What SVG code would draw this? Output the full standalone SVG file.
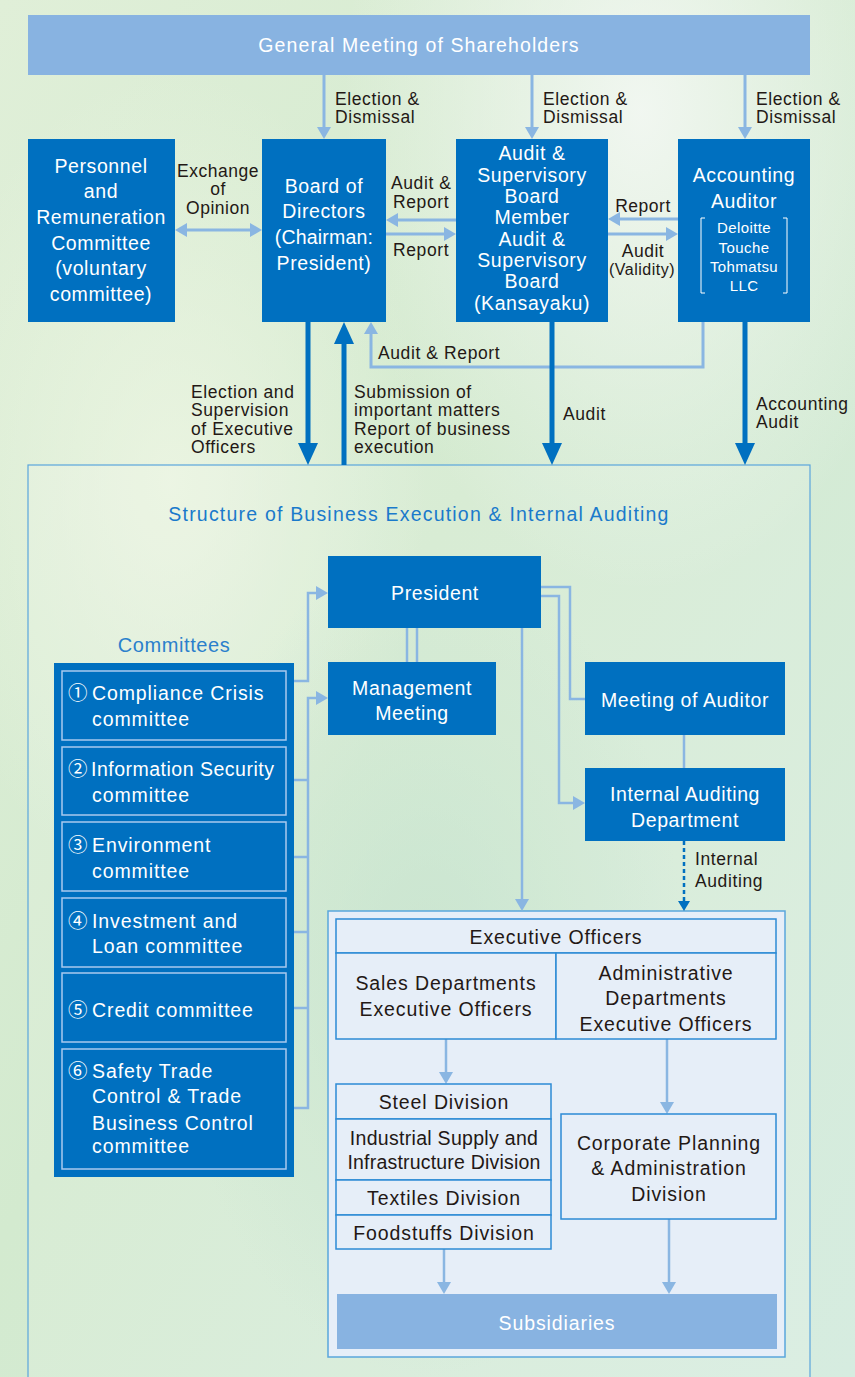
<svg xmlns="http://www.w3.org/2000/svg" width="855" height="1377" viewBox="0 0 855 1377">
<defs>
<linearGradient id="bg" x1="0" y1="0" x2="1" y2="1">
<stop offset="0" stop-color="#e0efd8"/>
<stop offset="0.45" stop-color="#d3eacf"/>
<stop offset="1" stop-color="#d6ece0"/>
</linearGradient>
<radialGradient id="hl1" cx="0.75" cy="0.08" r="0.35">
<stop offset="0" stop-color="#f4f8f4" stop-opacity="0.9"/>
<stop offset="1" stop-color="#f4f8f4" stop-opacity="0"/>
</radialGradient>
<radialGradient id="hl2" cx="0.2" cy="0.35" r="0.3">
<stop offset="0" stop-color="#eef6e4" stop-opacity="0.8"/>
<stop offset="1" stop-color="#eef6e4" stop-opacity="0"/>
</radialGradient>
<radialGradient id="hl3" cx="0.5" cy="0.7" r="0.3">
<stop offset="0" stop-color="#b8dcc4" stop-opacity="0.6"/>
<stop offset="1" stop-color="#b8dcc4" stop-opacity="0"/>
</radialGradient>
<marker id="al" markerWidth="14" markerHeight="14" refX="5" refY="7" orient="auto-start-reverse" markerUnits="userSpaceOnUse">
<path d="M0,0 L12,7 L0,14 z" fill="#8ab6e2"/>
</marker>
<marker id="ad" markerWidth="12" markerHeight="12" refX="4" refY="6" orient="auto" markerUnits="userSpaceOnUse">
<path d="M0,0 L10,6 L0,12 z" fill="#0070c0"/>
</marker>
<marker id="at" markerWidth="22" markerHeight="20" refX="8" refY="10" orient="auto" markerUnits="userSpaceOnUse">
<path d="M0,0 L22,10 L0,20 z" fill="#0070c0"/>
</marker>
<style>
text{font-family:"Liberation Sans","Noto Sans CJK JP",sans-serif}
.box{fill:#0070c0}
.lbox{fill:#88b3e1}
.w{fill:#ffffff;font-size:19.5px;letter-spacing:0.6px;text-anchor:middle}
.wl{fill:#ffffff;font-size:19.5px;letter-spacing:0.9px}
.ws{fill:#ffffff;font-size:15px;letter-spacing:0.4px;text-anchor:middle}
.lb{fill:#231815;font-size:17.5px;letter-spacing:0.6px}
.lbm{fill:#231815;font-size:17.5px;letter-spacing:0.5px;text-anchor:middle}
.d{fill:#231815;font-size:19.5px;letter-spacing:0.9px;text-anchor:middle}
.ttl{fill:#1a7acb;font-size:19.5px;letter-spacing:1.2px;text-anchor:middle}
.cbox{fill:none;stroke:#a9c9ee;stroke-width:1.5}
.cell{fill:#e6eef8;stroke:#2d8bd5;stroke-width:1.5}
.cl{fill:none;stroke:#8ab6e2;stroke-width:3}
.cl2{fill:none;stroke:#8ab6e2;stroke-width:2.5}
.thick{fill:none;stroke:#0070c0;stroke-width:5}
.dash{fill:none;stroke:#0070c0;stroke-width:2.5;stroke-dasharray:4 3}
</style>
</defs>

<rect width="855" height="1377" fill="url(#bg)"/>
<rect width="855" height="1377" fill="url(#hl1)"/>
<rect width="855" height="1377" fill="url(#hl2)"/>
<rect width="855" height="1377" fill="url(#hl3)"/>

<g id="container">
<rect x="28" y="465" width="782" height="930" fill="#ffffff" fill-opacity="0.12" stroke="#5aa6dc" stroke-width="1.2"/>
<text class="ttl" x="419" y="521">Structure of Business Execution &amp; Internal Auditing</text>
</g>

<g id="executive-area">
<rect x="328" y="911" width="457" height="446" fill="#e6eef8" stroke="#5aa6dc" stroke-width="1.5"/>
</g>

<g id="connectors">
<path class="cl" d="M324,75 V132" marker-end="url(#al)"/>
<path class="cl" d="M532,75 V132" marker-end="url(#al)"/>
<path class="cl" d="M745,75 V132" marker-end="url(#al)"/>
<path class="cl" d="M182,230 H255" marker-start="url(#al)" marker-end="url(#al)"/>
<path class="cl" d="M456,220 H393" marker-end="url(#al)"/>
<path class="cl" d="M386,234 H449" marker-end="url(#al)"/>
<path class="cl" d="M678,219 H615" marker-end="url(#al)"/>
<path class="cl" d="M608,234 H671" marker-end="url(#al)"/>
<path class="cl" d="M703,322 V367 H371 V329" marker-end="url(#al)"/>
<path class="thick" d="M308,322 V451" marker-end="url(#at)"/>
<path class="thick" d="M344,465 V336" marker-end="url(#at)"/>
<path class="thick" d="M552,322 V451" marker-end="url(#at)"/>
<path class="thick" d="M745,322 V451" marker-end="url(#at)"/>
<path class="cl2" d="M407,628 V662 M417,628 V662"/>
<path class="cl2" d="M286,681 H308 V593 H321" marker-end="url(#al)"/>
<path class="cl2" d="M286,1108 H308 V698 H321" marker-end="url(#al)"/>
<path class="cl2" d="M286,780 H308 M286,857 H308 M286,932 H308 M286,1008 H308"/>
<path class="cl2" d="M541,587 H570 V699 H585"/>
<path class="cl2" d="M541,596 H559 V803 H578" marker-end="url(#al)"/>
<path class="cl2" d="M684,735 V768"/>
<path class="dash" d="M684,841 V905" marker-end="url(#ad)"/>
<path class="cl2" d="M522,628 V904" marker-end="url(#al)"/>
<path class="cl2" d="M446,1039 V1077" marker-end="url(#al)"/>
<path class="cl2" d="M667,1039 V1107" marker-end="url(#al)"/>
<path class="cl2" d="M444,1249 V1287" marker-end="url(#al)"/>
<path class="cl2" d="M669,1219 V1287" marker-end="url(#al)"/>
</g>

<g id="labels">
<text class="lb" x="335" y="105">Election &amp;</text>
<text class="lb" x="335" y="123">Dismissal</text>
<text class="lb" x="543" y="105">Election &amp;</text>
<text class="lb" x="543" y="123">Dismissal</text>
<text class="lb" x="756" y="105">Election &amp;</text>
<text class="lb" x="756" y="123">Dismissal</text>
<text class="lbm" x="218" y="177">Exchange</text>
<text class="lbm" x="218" y="195">of</text>
<text class="lbm" x="218" y="214">Opinion</text>
<text class="lb" x="391" y="189">Audit &amp;</text>
<text class="lb" x="393" y="208">Report</text>
<text class="lb" x="393" y="256">Report</text>
<text class="lbm" x="643" y="212">Report</text>
<text class="lbm" x="643" y="257">Audit</text>
<text class="lbm" x="642" y="275" style="font-size:16px">(Validity)</text>
<text class="lb" x="378" y="359">Audit &amp; Report</text>
<text class="lb" x="191" y="398">Election and</text>
<text class="lb" x="191" y="416">Supervision</text>
<text class="lb" x="191" y="435">of Executive</text>
<text class="lb" x="191" y="453">Officers</text>
<text class="lb" x="354" y="398">Submission of</text>
<text class="lb" x="354" y="416">important matters</text>
<text class="lb" x="354" y="435">Report of business</text>
<text class="lb" x="354" y="453">execution</text>
<text class="lb" x="563" y="420">Audit</text>
<text class="lb" x="756" y="410">Accounting</text>
<text class="lb" x="756" y="428">Audit</text>
<text class="lb" x="695" y="865">Internal</text>
<text class="lb" x="695" y="887">Auditing</text>
</g>

<g id="general-meeting">
<rect class="lbox" x="28" y="15" width="782" height="60"/>
<text class="w" x="419" y="52" style="letter-spacing:1.1px">General Meeting of Shareholders</text>
</g>

<g id="personnel">
<rect class="box" x="28" y="139" width="147" height="183"/>
<text class="w" x="101" y="173">Personnel</text>
<text class="w" x="101" y="198">and</text>
<text class="w" x="101" y="224">Remuneration</text>
<text class="w" x="101" y="250">Committee</text>
<text class="w" x="101" y="275">(voluntary</text>
<text class="w" x="101" y="301">committee)</text>
</g>

<g id="board">
<rect class="box" x="262" y="139" width="124" height="183"/>
<text class="w" x="324" y="193">Board of</text>
<text class="w" x="324" y="218">Directors</text>
<text class="w" x="324" y="244" style="letter-spacing:0.2px">(Chairman:</text>
<text class="w" x="324" y="270">President)</text>
</g>

<g id="audit-board">
<rect class="box" x="456" y="139" width="152" height="183"/>
<text class="w" x="532" y="160">Audit &amp;</text>
<text class="w" x="532" y="182">Supervisory</text>
<text class="w" x="532" y="203">Board</text>
<text class="w" x="532" y="224">Member</text>
<text class="w" x="532" y="246">Audit &amp;</text>
<text class="w" x="532" y="267">Supervisory</text>
<text class="w" x="532" y="288">Board</text>
<text class="w" x="532" y="310">(Kansayaku)</text>
</g>

<g id="accounting-auditor">
<rect class="box" x="678" y="139" width="132" height="183"/>
<text class="w" x="744" y="182">Accounting</text>
<text class="w" x="744" y="208">Auditor</text>
<path d="M705,218 H701 V293 H705 M783,218 H787 V293 H783" fill="none" stroke="#ffffff" stroke-width="1"/>
<text class="ws" x="744" y="233">Deloitte</text>
<text class="ws" x="744" y="253">Touche</text>
<text class="ws" x="744" y="272">Tohmatsu</text>
<text class="ws" x="744" y="291">LLC</text>
</g>

<g id="president">
<rect class="box" x="328" y="556" width="213" height="72"/>
<text class="w" x="435" y="600">President</text>
</g>

<g id="management-meeting">
<rect class="box" x="328" y="662" width="168" height="73"/>
<text class="w" x="412" y="695">Management</text>
<text class="w" x="412" y="720">Meeting</text>
</g>

<g id="meeting-of-auditor">
<rect class="box" x="585" y="662" width="200" height="73"/>
<text class="w" x="685" y="707">Meeting of Auditor</text>
</g>

<g id="internal-auditing">
<rect class="box" x="585" y="768" width="200" height="73"/>
<text class="w" x="685" y="801">Internal Auditing</text>
<text class="w" x="685" y="827">Department</text>
</g>

<g id="committees">
<text x="174" y="652" style="fill:#2a80cc;font-size:20px;letter-spacing:0.6px;text-anchor:middle">Committees</text>
<rect class="box" x="54" y="663" width="240" height="514"/>
<rect class="cbox" x="62" y="671" width="224" height="69"/>
<rect class="cbox" x="62" y="747" width="224" height="68"/>
<rect class="cbox" x="62" y="822" width="224" height="69"/>
<rect class="cbox" x="62" y="898" width="224" height="69"/>
<rect class="cbox" x="62" y="973" width="224" height="69"/>
<rect class="cbox" x="62" y="1049" width="224" height="120"/>
<text class="wl" x="68" y="700">①<tspan x="92">Compliance Crisis</tspan></text>
<text class="wl" x="92" y="726">committee</text>
<text class="wl" x="68" y="776">②<tspan x="91" style="letter-spacing:0.5px">Information Security</tspan></text>
<text class="wl" x="92" y="802">committee</text>
<text class="wl" x="68" y="852">③<tspan x="92">Environment</tspan></text>
<text class="wl" x="92" y="878">committee</text>
<text class="wl" x="68" y="928">④<tspan x="92">Investment and</tspan></text>
<text class="wl" x="92" y="953">Loan committee</text>
<text class="wl" x="68" y="1017">⑤<tspan x="92">Credit committee</tspan></text>
<text class="wl" x="68" y="1078">⑥<tspan x="92">Safety Trade</tspan></text>
<text class="wl" x="92" y="1103">Control &amp; Trade</text>
<text class="wl" x="92" y="1130">Business Control</text>
<text class="wl" x="92" y="1153">committee</text>
</g>

<g id="executive-officers">
<rect class="cell" x="336" y="919" width="440" height="34"/>
<text class="d" x="556" y="944">Executive Officers</text>
</g>

<g id="sales-officers">
<rect class="cell" x="336" y="953" width="220" height="86"/>
<text class="d" x="446" y="990">Sales Departments</text>
<text class="d" x="446" y="1016">Executive Officers</text>
</g>

<g id="admin-officers">
<rect class="cell" x="556" y="953" width="220" height="86"/>
<text class="d" x="666" y="980">Administrative</text>
<text class="d" x="666" y="1005">Departments</text>
<text class="d" x="666" y="1031">Executive Officers</text>
</g>

<g id="steel">
<rect class="cell" x="336" y="1084" width="215" height="35"/>
<text class="d" x="444" y="1109">Steel Division</text>
</g>

<g id="industrial">
<rect class="cell" x="336" y="1119" width="215" height="61"/>
<text class="d" x="444" y="1145" style="letter-spacing:0.3px">Industrial Supply and</text>
<text class="d" x="444" y="1169" style="letter-spacing:0.2px">Infrastructure Division</text>
</g>

<g id="textiles">
<rect class="cell" x="336" y="1180" width="215" height="35"/>
<text class="d" x="444" y="1205">Textiles Division</text>
</g>

<g id="foodstuffs">
<rect class="cell" x="336" y="1215" width="215" height="34"/>
<text class="d" x="444" y="1240">Foodstuffs Division</text>
</g>

<g id="corporate">
<rect class="cell" x="561" y="1114" width="215" height="105"/>
<text class="d" x="669" y="1150">Corporate Planning</text>
<text class="d" x="669" y="1175">&amp; Administration</text>
<text class="d" x="669" y="1201">Division</text>
</g>

<g id="subsidiaries">
<rect class="lbox" x="337" y="1294" width="440" height="55"/>
<text class="w" x="557" y="1330" style="letter-spacing:0.9px">Subsidiaries</text>
</g>
</svg>
